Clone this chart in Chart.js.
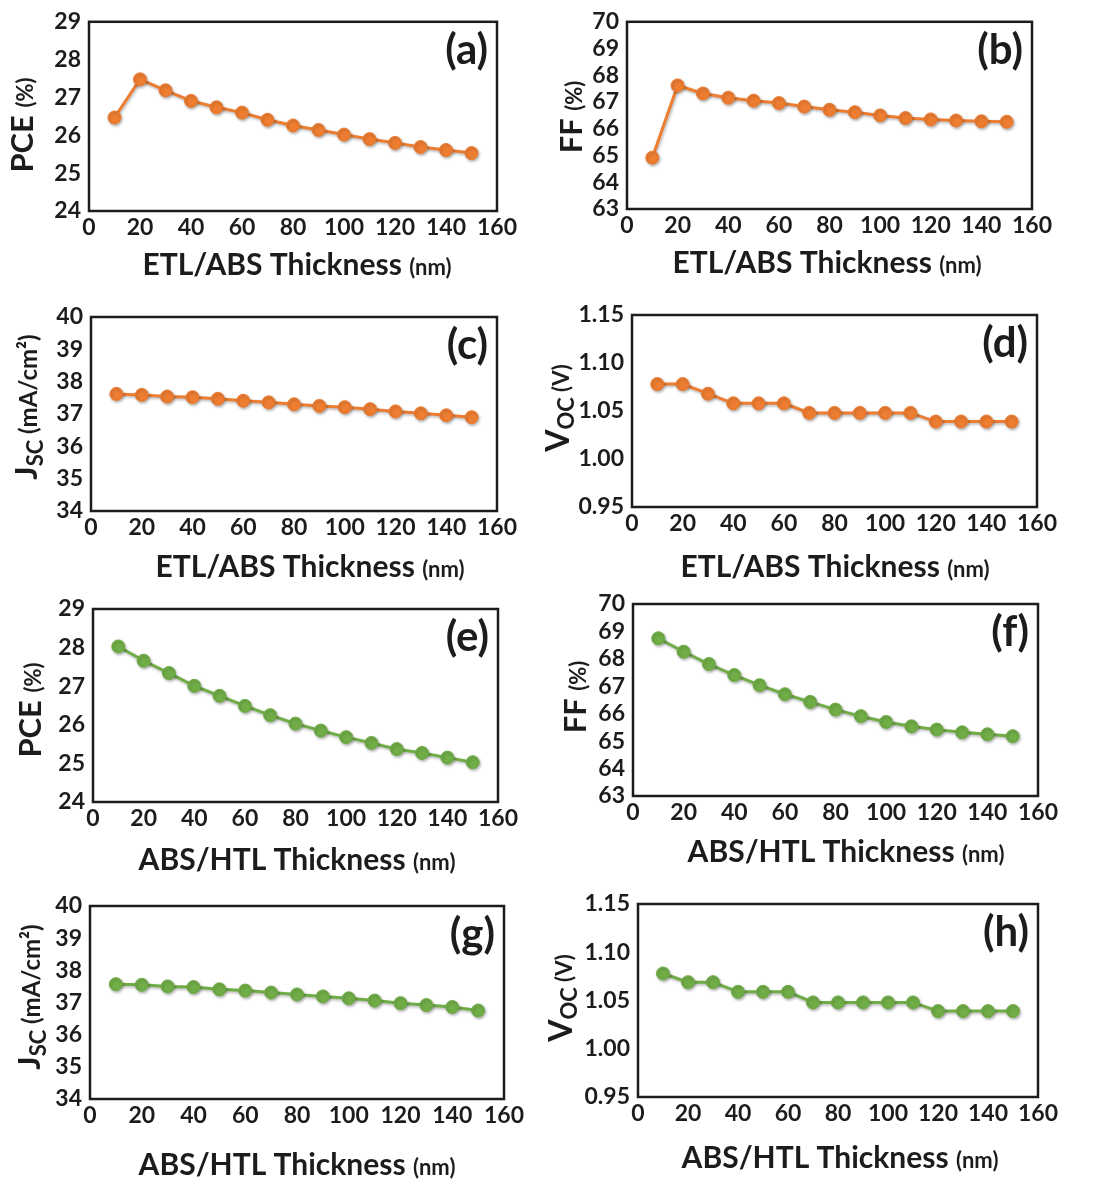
<!DOCTYPE html>
<html>
<head>
<meta charset="utf-8">
<script src="https://cdn.jsdelivr.net/npm/chart.js@4.4.0/dist/chart.umd.min.js"></script>
<style>
    html, body { margin: 0; padding: 0; background: #fff; }
    #wrap { position: relative; width: 1102px; height: 1180px; overflow: hidden; }
    #wrap canvas { position: absolute; left: 0; top: 0; }
</style>
</head>
<body>
<div id="wrap"></div>
<script>
// thickness (nm) on every x axis
const thickness = [10, 20, 30, 40, 50, 60, 70, 80, 90, 100, 110, 120, 130, 140, 150];

// ETL/ABS sweep (orange)
const pceEtl = [26.47, 27.48, 27.19, 26.91, 26.74, 26.60, 26.41, 26.26, 26.14, 26.02, 25.90, 25.80, 25.69, 25.61, 25.53];
const ffEtl = [64.92, 67.62, 67.32, 67.16, 67.05, 66.96, 66.83, 66.71, 66.62, 66.50, 66.40, 66.35, 66.31, 66.28, 66.26];
const jscEtl = [37.62, 37.59, 37.54, 37.52, 37.47, 37.41, 37.36, 37.30, 37.25, 37.21, 37.15, 37.08, 37.02, 36.96, 36.90];
const vocEtl = [1.078, 1.078, 1.068, 1.058, 1.058, 1.058, 1.048, 1.048, 1.048, 1.048, 1.048, 1.039, 1.039, 1.039, 1.039];

// ABS/HTL sweep (green)
const pceHtl = [28.03, 27.66, 27.34, 27.01, 26.75, 26.49, 26.25, 26.03, 25.85, 25.68, 25.53, 25.37, 25.27, 25.15, 25.03];
const ffHtl = [68.75, 68.26, 67.81, 67.41, 67.04, 66.71, 66.43, 66.15, 65.91, 65.70, 65.54, 65.42, 65.32, 65.25, 65.18];
const jscHtl = [37.57, 37.55, 37.50, 37.48, 37.41, 37.37, 37.31, 37.25, 37.19, 37.13, 37.06, 36.98, 36.92, 36.86, 36.75];
const vocHtl = [1.078, 1.069, 1.069, 1.059, 1.059, 1.059, 1.048, 1.048, 1.048, 1.048, 1.048, 1.039, 1.039, 1.039, 1.039];

// tick labels
const xTicks = [0, 20, 40, 60, 80, 100, 120, 140, 160];
const pceTicks = [24, 25, 26, 27, 28, 29];
const ffTicks = [63, 64, 65, 66, 67, 68, 69, 70];
const jscTicks = [34, 35, 36, 37, 38, 39, 40];
const vocTicks = [0.95, 1.00, 1.05, 1.10, 1.15];

const ink = '#1e1b1c';
const orange = '#ED7D31';
const green = '#70AD47';
const font = 'Lato';

const pceTitle = [{ t: 'PCE ', s: 31 }, { t: '(%)', s: 22 }];
const ffTitle = [{ t: 'FF ', s: 31 }, { t: '(%)', s: 22 }];
const jscTitle = [{ t: 'J', s: 31 }, { t: 'SC', s: 22, dy: 6 }, { t: ' (mA/cm²)', s: 24 }];
const vocTitle = [{ t: 'V', s: 32 }, { t: 'OC', s: 22, dy: 5 }, { t: ' (V)', s: 22 }];
const etlTitle = [{ t: 'ETL/ABS Thickness ', s: 30 }, { t: '(nm)', s: 22 }];
const htlTitle = [{ t: 'ABS/HTL Thickness ', s: 30 }, { t: '(nm)', s: 22 }];

// box = plot frame [left, top, right, bottom]; yt = [baseline x, centre y]; xt = [centre x, baseline y]
const panels = [
    { tag: 'a', box: [89, 17, 497, 211], y: pceEtl, ticks: pceTicks, dec: 0, color: orange, yTitle: pceTitle, yt: [33, 125], xTitle: etlTitle, xt: [297, 275] },
    { tag: 'b', box: [627, 15, 1032, 209], y: ffEtl, ticks: ffTicks, dec: 0, color: orange, yTitle: ffTitle, yt: [582, 117], xTitle: etlTitle, xt: [827, 273] },
    { tag: 'c', box: [91, 317, 497, 511], y: jscEtl, ticks: jscTicks, dec: 0, color: orange, yTitle: jscTitle, yt: [37, 407], xTitle: etlTitle, xt: [310, 577] },
    { tag: 'd', box: [632, 315, 1037, 507], y: vocEtl, ticks: vocTicks, dec: 2, color: orange, yTitle: vocTitle, yt: [569, 408], xTitle: etlTitle, xt: [835, 577] },
    { tag: 'e', box: [93, 609, 498, 802], y: pceHtl, ticks: pceTicks, dec: 0, color: green, yTitle: pceTitle, yt: [41, 710], xTitle: htlTitle, xt: [297, 870] },
    { tag: 'f', box: [633, 604, 1038, 796], y: ffHtl, ticks: ffTicks, dec: 0, color: green, yTitle: ffTitle, yt: [586, 697], xTitle: htlTitle, xt: [846, 862] },
    { tag: 'g', box: [90, 906, 504, 1099], y: jscHtl, ticks: jscTicks, dec: 0, color: green, yTitle: jscTitle, yt: [40, 997], xTitle: htlTitle, xt: [297, 1175] },
    { tag: 'h', box: [638, 904, 1038, 1097], y: vocHtl, ticks: vocTicks, dec: 2, color: green, yTitle: vocTitle, yt: [572, 998], xTitle: htlTitle, xt: [840, 1168] }
];

const W = 1102, H = 1180, X_AXIS_H = 40;

function drawRich(ctx, parts, x, y, vertical) {
    let total = 0;
    parts.forEach(function (p) {
        ctx.font = 'bold ' + p.s + 'px ' + font;
        p.w = ctx.measureText(p.t).width;
        total += p.w;
    });
    ctx.save();
    ctx.translate(x, y);
    if (vertical) ctx.rotate(-Math.PI / 2);
    ctx.textAlign = 'left';
    ctx.textBaseline = 'alphabetic';
    ctx.fillStyle = ink;
    let cx = -total / 2;
    parts.forEach(function (p) {
        ctx.font = 'bold ' + p.s + 'px ' + font;
        ctx.fillText(p.t, cx, p.dy || 0);
        cx += p.w;
    });
    ctx.restore();
}

const decor = {
    id: 'decor',
    beforeDatasetsDraw(chart) {
        const ctx = chart.ctx;
        ctx.save();
        ctx.shadowColor = 'rgba(0,0,0,0.3)';
        ctx.shadowBlur = 3;
        ctx.shadowOffsetX = 1;
        ctx.shadowOffsetY = 1.5;
    },
    afterDatasetsDraw(chart) {
        chart.ctx.restore();
    },
    afterDraw(chart, args, o) {
        const ctx = chart.ctx;
        const a = chart.chartArea;
        ctx.save();
        ctx.strokeStyle = ink;
        ctx.lineWidth = 2.5;
        ctx.strokeRect(a.left, a.top, a.right - a.left, a.bottom - a.top);

        ctx.fillStyle = ink;
        ctx.font = 'bold 42px ' + font;
        ctx.textAlign = 'right';
        ctx.textBaseline = 'alphabetic';
        ctx.fillText('(' + o.tag + ')', a.right - 9, a.top + 42);
        ctx.restore();

        drawRich(ctx, o.xTitle, o.xt[0], o.xt[1], false);
        drawRich(ctx, o.yTitle, o.yt[0], o.yt[1], true);
    }
};

const wrap = document.getElementById('wrap');

panels.forEach(function (p) {
    const canvas = document.createElement('canvas');
    canvas.width = W;
    canvas.height = H;
    canvas.style.width = W + 'px';
    canvas.style.height = H + 'px';
    wrap.appendChild(canvas);

    const [L, T, R, B] = p.box;
    const points = thickness.map(function (x, i) { return { x: x, y: p.y[i] }; });

    new Chart(canvas.getContext('2d'), {
        type: 'line',
        data: {
            datasets: [{
                data: points,
                borderColor: p.color,
                backgroundColor: p.color,
                borderWidth: 3,
                pointRadius: 6.5,
                pointBorderWidth: 1,
                pointBorderColor: p.color,
                pointBackgroundColor: p.color,
                tension: 0,
                fill: false
            }]
        },
        options: {
            responsive: false,
            animation: false,
            devicePixelRatio: 1,
            layout: { padding: { left: 0, top: T, right: W - R, bottom: H - B - X_AXIS_H } },
            plugins: {
                legend: { display: false },
                tooltip: { enabled: false },
                decor: p
            },
            scales: {
                x: {
                    type: 'linear',
                    min: 0,
                    max: 160,
                    afterBuildTicks: function (s) { s.ticks = xTicks.map(function (v) { return { value: v }; }); },
                    afterFit: function (s) { s.height = X_AXIS_H; },
                    grid: { display: false, drawTicks: false },
                    border: { display: false },
                    ticks: {
                        padding: 3,
                        color: ink,
                        maxRotation: 0,
                        autoSkip: false,
                        font: { family: font, size: 23, weight: 'bold' }
                    }
                },
                y: {
                    min: p.ticks[0],
                    max: p.ticks[p.ticks.length - 1],
                    afterBuildTicks: function (s) { s.ticks = p.ticks.map(function (v) { return { value: v }; }); },
                    afterFit: function (s) { s.width = L; },
                    grid: { display: false, drawTicks: false },
                    border: { display: false },
                    ticks: {
                        padding: 8,
                        color: ink,
                        autoSkip: false,
                        font: { family: font, size: 23, weight: 'bold' },
                        callback: function (v) { return Number(v).toFixed(p.dec); }
                    }
                }
            }
        },
        plugins: [decor]
    });
});
</script>
</body>
</html>
